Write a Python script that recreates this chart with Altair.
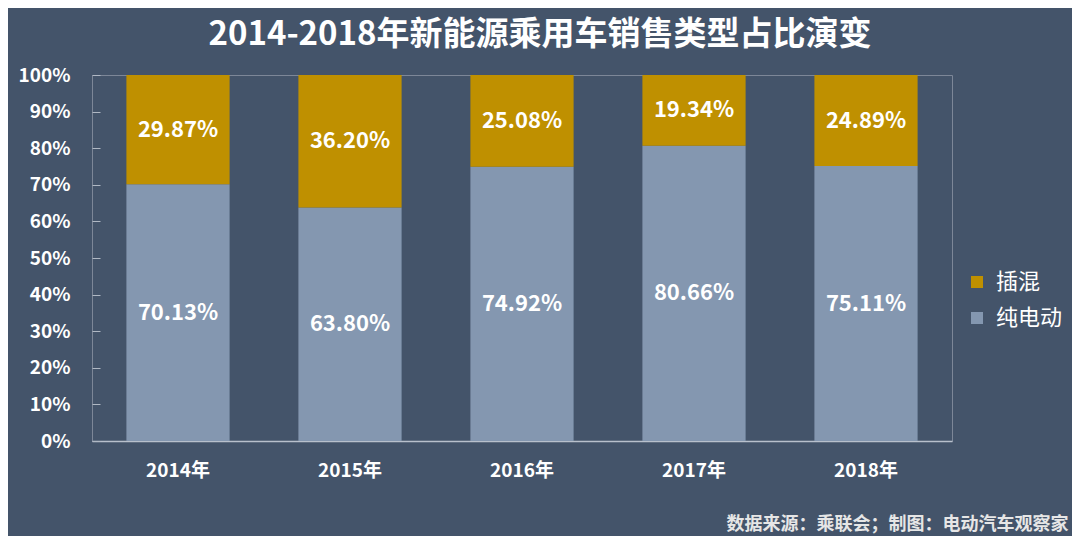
import altair as alt
import pandas as pd

years = ["2014年", "2015年", "2016年", "2017年", "2018年"]
bev = [70.13, 63.80, 74.92, 80.66, 75.11]   # 纯电动
phev = [29.87, 36.20, 25.08, 19.34, 24.89]  # 插混
series = ["插混", "纯电动"]
colors = ["#BF9000", "#8497B0"]
y_ticks = [0, 10, 20, 30, 40, 50, 60, 70, 80, 90, 100]

rows = []
for i, y in enumerate(years):
    rows.append({"year": y, "type": "纯电动", "value": bev[i], "ord": 0})
    rows.append({"year": y, "type": "插混", "value": phev[i], "ord": 1})
df = pd.DataFrame(rows)

FONT = "Noto Sans CJK SC"
BG = "#44546A"

base = alt.Chart(df).transform_stack(
    stack="value", as_=["v0", "v1"], groupby=["year"],
    sort=[alt.SortField("ord", order="ascending")]
).transform_calculate(mid="(datum.v0 + datum.v1) / 2",
                      lbl="format(datum.value, '.2f') + '%'")

x_axis = alt.Axis(title="数据来源：乘联会；制图：电动汽车观察家",
                  titleX=976, titleY=83, titleAlign="right",
                  titleBaseline="middle", titleAngle=0,
                  titleFont=FONT, titleFontSize=18, titleFontWeight="bold",
                  titleColor="#E6E6E6",
                  labelAngle=0, labelFont=FONT, labelFontSize=19,
                  labelFontWeight="bold", labelColor="#FFFFFF",
                  labelBaseline="middle", labelPadding=29,
                  ticks=False, tickSize=0,
                  domain=True, domainColor="#B8C0CC", domainWidth=1.5)
x_scale = alt.Scale(paddingInner=0.4, paddingOuter=0.2)

y_axis = alt.Axis(title=None, values=y_ticks, tickCount=11,
                  labelExpr="datum.value + '%'",
                  labelFont=FONT, labelFontSize=19, labelFontWeight="bold",
                  labelColor="#FFFFFF", labelPadding=22, labelOverlap=False,
                  domain=False, grid=False, ticks=True, tickSize=8,
                  tickWidth=1, tickOpacity=1,
                  tickColor="#B0B8C4", offset=-8)
y_scale = alt.Scale(domain=[0, 100])

bars = base.mark_bar().encode(
    x=alt.X("year:N", sort=years, scale=x_scale, axis=x_axis),
    y=alt.Y("v0:Q", scale=y_scale, axis=y_axis),
    y2="v1:Q",
    color=alt.Color("type:N", scale=alt.Scale(domain=series, range=colors),
                    legend=alt.Legend(title=None, orient="none", legendX=874, legendY=196,
                                      symbolType="square", symbolSize=144,
                                      symbolStrokeWidth=0, labelOffset=8,
                                      labelFont=FONT, labelFontSize=22,
                                      labelColor="#FFFFFF", rowPadding=14,
                                      padding=0)),
)

labels = base.mark_text(font=FONT, fontSize=22, fontWeight="bold", color="#FFFFFF",
                        baseline="middle").encode(
    x=alt.X("year:N", sort=years, scale=x_scale, axis=x_axis),
    y=alt.Y("mid:Q", scale=y_scale, axis=y_axis),
    text="lbl:N",
)

chart = alt.layer(bars, labels).properties(
    width=860, height=366,
    background=BG,
    padding={"left": 84, "top": 67, "right": 120, "bottom": 95},
    autosize=alt.AutoSizeParams(type="none"),
    title=alt.TitleParams("2014-2018年新能源乘用车销售类型占比演变",
                          font=FONT, fontSize=33, fontWeight="bold", color="#FFFFFF",
                          anchor="middle", frame="group", dx=18, dy=41, offset=22,
                          baseline="bottom"),
).configure_view(stroke="#7D8798", strokeWidth=1)

chart.save("out.html", embed_options={"renderer": "svg", "actions": False})
